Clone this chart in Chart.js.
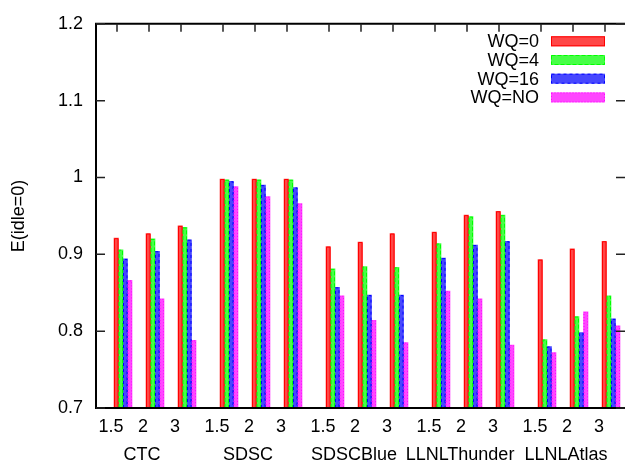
<!DOCTYPE html>
<html>
<head>
<meta charset="utf-8">
<script src="https://cdn.jsdelivr.net/npm/chart.js@4/dist/chart.umd.min.js"></script>
<style>
  html, body { margin: 0; padding: 0; background: #fff; }
  canvas { display: block; }
</style>
</head>
<body>
<canvas id="EnergyChart" width="625" height="464"></canvas>
<script>
const workloads = ["CTC", "SDSC", "SDSCBlue", "LLNLThunder", "LLNLAtlas"];
const factors = ["1.5", "2", "3"];
const seriesLabels = ["WQ=0", "WQ=4", "WQ=16", "WQ=NO"];

// E(idle=0) per workload/factor pair, in the order of workloads x factors
const wq0  = [0.921, 0.927, 0.937, 0.998, 0.998, 0.998, 0.910, 0.916, 0.927, 0.929, 0.951, 0.956, 0.893, 0.907, 0.917];
const wq4  = [0.906, 0.920, 0.935, 0.997, 0.997, 0.997, 0.881, 0.884, 0.883, 0.914, 0.949, 0.951, 0.789, 0.819, 0.846];
const wq16 = [0.894, 0.904, 0.919, 0.995, 0.990, 0.987, 0.857, 0.847, 0.847, 0.895, 0.912, 0.917, 0.780, 0.798, 0.816];
const wqNO = [0.866, 0.842, 0.788, 0.988, 0.975, 0.966, 0.846, 0.814, 0.785, 0.852, 0.842, 0.782, 0.772, 0.825, 0.807];

const yTicks = [0.7, 0.8, 0.9, 1.0, 1.1, 1.2];

const seriesValues = [wq0, wq4, wq16, wqNO];
const lineColors = ["#ff0000", "#00ff00", "#0000ff", "#ff00ff"];
const fillColors = ["rgba(255,0,0,0.72)", "rgba(0,255,0,0.72)", "rgba(0,0,255,0.72)", "rgba(255,0,255,0.72)"];
const lineDashes = [[], [4, 2], [3, 3], [1, 2]];

const FONT = "'Liberation Sans', Arial, Helvetica, sans-serif";

// cluster positions on the x axis, with a little extra space between workloads
const workloadGap = 0.3125;
const xPos = [];
const xLabels = [];
workloads.forEach((w, i) => {
  factors.forEach((f, j) => {
    xPos.push(i * (factors.length + workloadGap) + j);
    xLabels.push(f);
  });
});

// bar outlines in gnuplot line styles (solid / dashed / dotted)
const barOutline = {
  id: "barOutline",
  afterDatasetsDraw(chart) {
    const ctx = chart.ctx;
    ctx.save();
    chart.data.datasets.forEach((ds, di) => {
      const meta = chart.getDatasetMeta(di);
      ctx.strokeStyle = lineColors[di];
      ctx.lineWidth = 1;
      ctx.setLineDash(lineDashes[di]);
      meta.data.forEach(bar => {
        const p = bar.getProps(["x", "y", "base", "width"], true);
        const l = p.x - p.width / 2 + 0.5;
        const r = p.x + p.width / 2 - 0.5;
        ctx.beginPath();
        ctx.moveTo(l, p.base);
        ctx.lineTo(l, p.y + 0.5);
        ctx.lineTo(r, p.y + 0.5);
        ctx.lineTo(r, p.base);
        ctx.stroke();
      });
    });
    ctx.restore();
  }
};

// frame with inward ticks, workload names and the legend
const frame = {
  id: "frame",
  afterDraw(chart) {
    const ctx = chart.ctx;
    const { left, right, top, bottom } = chart.chartArea;
    const xs = chart.scales.x;
    const ys = chart.scales.y;

    ctx.save();
    ctx.strokeStyle = "#000";
    ctx.lineWidth = 2;
    ctx.beginPath();
    ctx.moveTo(right + 2, top);
    ctx.lineTo(left, top);
    ctx.lineTo(left, bottom);
    ctx.lineTo(right + 2, bottom);
    ctx.stroke();

    ctx.strokeStyle = "#222";
    ctx.lineWidth = 1.5;
    ctx.beginPath();
    ys.ticks.forEach(t => {
      const py = ys.getPixelForValue(t.value);
      ctx.moveTo(left, py);
      ctx.lineTo(left + 9, py);
      ctx.moveTo(right, py);
      ctx.lineTo(right - 9, py);
    });
    xs.ticks.forEach(t => {
      const px = xs.getPixelForValue(t.value) - 6;
      ctx.moveTo(px, top);
      ctx.lineTo(px, top + 8);
    });
    ctx.stroke();

    // workload names under each cluster of factors
    ctx.fillStyle = "#000";
    ctx.font = "18px " + FONT;
    ctx.textAlign = "center";
    ctx.textBaseline = "middle";
    workloads.forEach((w, i) => {
      const mid = xs.getPixelForValue(xPos[i * factors.length + 1]);
      ctx.fillText(w, mid - 13, 455);
    });

    // legend: text on the left, swatch on the right
    const boxR = right - 20;
    const boxL = boxR - 54;
    chart.data.datasets.forEach((ds, di) => {
      const cy = top + 17.5 + di * 18.7;
      ctx.fillStyle = "#fff";
      ctx.fillRect(boxL, cy - 5, boxR - boxL, 10);
      ctx.fillStyle = fillColors[di];
      ctx.fillRect(boxL, cy - 5, boxR - boxL, 10);
      ctx.strokeStyle = lineColors[di];
      ctx.lineWidth = 1;
      ctx.setLineDash(lineDashes[di]);
      ctx.strokeRect(boxL + 0.5, cy - 4.5, boxR - boxL - 1, 9);
      ctx.setLineDash([]);
      ctx.fillStyle = "#000";
      ctx.textAlign = "right";
      ctx.fillText(ds.label, boxL - 12, cy + 1);
    });
    ctx.restore();
  }
};

Chart.defaults.font.family = FONT;
Chart.defaults.color = "#000";

new Chart(document.getElementById("EnergyChart").getContext("2d"), {
  type: "bar",
  data: {
    datasets: seriesLabels.map((label, di) => ({
      label: label,
      data: seriesValues[di].map((v, i) => ({ x: xPos[i], y: v })),
      backgroundColor: fillColors[di],
      borderWidth: 0,
      barThickness: 4.5,
      base: yTicks[0]
    }))
  },
  options: {
    responsive: false,
    animation: false,
    layout: { padding: { top: 20, right: 0, bottom: 0, left: 0 } },
    plugins: {
      legend: { display: false },
      tooltip: { enabled: false }
    },
    scales: {
      x: {
        type: "linear",
        offset: false,
        min: -0.84375,
        max: 15.6875,
        grid: { display: false, drawTicks: false, offset: false },
        border: { display: false },
        afterBuildTicks: s => { s.ticks = xPos.map(v => ({ value: v })); },
        afterFit: s => { s.height = 56; },
        ticks: {
          font: { size: 18 },
          color: "#000",
          padding: 8,
          labelOffset: -12,
          autoSkip: false,
          maxRotation: 0,
          callback: (v, i) => xLabels[i]
        }
      },
      y: {
        min: 0.7,
        max: 1.2,
        grid: { display: false, drawTicks: false },
        border: { display: false },
        afterBuildTicks: s => { s.ticks = yTicks.map(v => ({ value: v })); },
        afterFit: s => { s.width = 96; },
        ticks: {
          font: { size: 18 },
          color: "#000",
          padding: 13,
          callback: v => String(Number(v.toFixed(1)))
        },
        title: {
          display: true,
          text: "E(idle=0)",
          font: { size: 18 },
          color: "#000",
          padding: { top: 8, bottom: 0 }
        }
      }
    }
  },
  plugins: [barOutline, frame]
});
</script>
</body>
</html>
